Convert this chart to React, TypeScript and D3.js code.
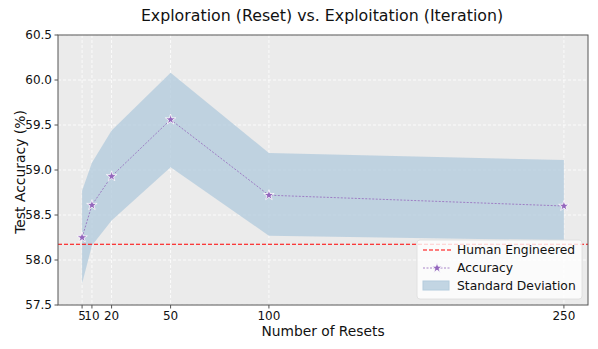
import React from "react";
import * as d3 from "d3";

const resets = [5, 10, 20, 50, 100, 250];
const accuracy = [58.25, 58.61, 58.93, 59.56, 58.72, 58.6];
const stdUpper = [58.77, 59.08, 59.44, 60.08, 59.19, 59.11];
const stdLower = [57.74, 58.16, 58.44, 59.03, 58.27, 58.22];
const humanEngineered = 58.175;
const yTicks = [57.5, 58.0, 58.5, 59.0, 59.5, 60.0, 60.5];
const xTicks = [5, 10, 20, 50, 100, 250];

const W = 598, H = 349;
const M = { left: 58, right: 588, top: 35, bottom: 305 };
const FONT = "DejaVu Sans, sans-serif";

function starPath(cx: number, cy: number, R: number) {
  const r = R * 0.38;
  const pts: string[] = [];
  for (let i = 0; i < 10; i++) {
    const a = -Math.PI / 2 + (i * Math.PI) / 5;
    const rr = i % 2 === 0 ? R : r;
    pts.push(`${cx + rr * Math.cos(a)},${cy + rr * Math.sin(a)}`);
  }
  return "M" + pts.join("L") + "Z";
}

export default function App() {
  const x = d3.scaleLinear().domain([-7.25, 262.25]).range([M.left, M.right]);
  const y = d3.scaleLinear().domain([57.5, 60.5]).range([M.bottom, M.top]);
  const data = resets.map((r, i) => ({ r, a: accuracy[i], u: stdUpper[i], l: stdLower[i] }));
  const area = d3.area<any>().x((d) => x(d.r)).y0((d) => y(d.l)).y1((d) => y(d.u))(data) || "";
  const line = d3.line<any>().x((d) => x(d.r)).y((d) => y(d.a))(data) || "";
  const purple = "#9467bd";
  const lx = 417, ly = 240;
  return (
    <svg width={W} height={H} style={{ display: "block", position: "absolute", left: 0, top: 0 }} fontFamily={FONT}>
      <rect x={0} y={0} width={W} height={H} fill="white" />
      <text x={322} y={21} textAnchor="middle" fontSize={15.8} fill="#111">
        Exploration (Reset) vs. Exploitation (Iteration)
      </text>
      <rect x={M.left} y={M.top} width={M.right - M.left} height={M.bottom - M.top} fill="#EBEBEB" />
      {yTicks.map((t) => (
        <line key={"gy" + t} x1={M.left} x2={M.right} y1={y(t)} y2={y(t)} stroke="white" strokeWidth={0.8} strokeDasharray="3,2" />
      ))}
      {xTicks.map((t) => (
        <line key={"gx" + t} x1={x(t)} x2={x(t)} y1={M.top} y2={M.bottom} stroke="white" strokeWidth={0.8} strokeDasharray="3,2" />
      ))}
      <path d={area} fill="#B4CCDD" fillOpacity={0.8} />
      <line x1={M.left} x2={M.right} y1={y(humanEngineered)} y2={y(humanEngineered)} stroke="#FF0000" strokeWidth={1.1} strokeDasharray="4,2" />
      <path d={line} fill="none" stroke={purple} strokeWidth={0.8} strokeDasharray="2,1.5" />
      {data.map((d) => (
        <path key={"m" + d.r} d={starPath(x(d.r), y(d.a), 5.5)} fill={purple} stroke="white" strokeWidth={0.8} />
      ))}
      <rect x={M.left} y={M.top} width={M.right - M.left} height={M.bottom - M.top} fill="none" stroke="#555" strokeWidth={1} />
      {yTicks.map((t) => (
        <g key={"ty" + t}>
          <line x1={M.left - 3.5} x2={M.left} y1={y(t)} y2={y(t)} stroke="#555" />
          <text x={M.left - 6} y={y(t)} dy="0.35em" textAnchor="end" fontSize={12} fill="#111">
            {t.toFixed(1)}
          </text>
        </g>
      ))}
      {xTicks.map((t) => (
        <g key={"tx" + t}>
          <line x1={x(t)} x2={x(t)} y1={M.bottom} y2={M.bottom + 3.5} stroke="#555" />
          <text x={x(t)} y={M.bottom + 15} textAnchor="middle" fontSize={12} fill="#111">
            {t}
          </text>
        </g>
      ))}
      <text x={323} y={336} textAnchor="middle" fontSize={13.8} fill="#111">
        Number of Resets
      </text>
      <text transform={`translate(25,172) rotate(-90)`} textAnchor="middle" fontSize={13.9} fill="#111">
        Test Accuracy (%)
      </text>
      <g>
        <rect x={lx} y={ly} width={165} height={59} rx={3} fill="white" fillOpacity={0.8} stroke="#ddd" strokeWidth={0.8} />
        <line x1={lx + 6} x2={lx + 34} y1={ly + 10} y2={ly + 10} stroke="#FF0000" strokeWidth={1.1} strokeDasharray="4,2" />
        <text x={lx + 40} y={ly + 10} dy="0.35em" fontSize={12.3} fill="#111">Human Engineered</text>
        <line x1={lx + 6} x2={lx + 34} y1={ly + 28} y2={ly + 28} stroke={purple} strokeWidth={0.8} strokeDasharray="2,1.5" />
        <path d={starPath(lx + 20, ly + 28, 5.5)} fill={purple} stroke="white" strokeWidth={0.8} />
        <text x={lx + 40} y={ly + 28} dy="0.35em" fontSize={12.3} fill="#111">Accuracy</text>
        <rect x={lx + 6} y={ly + 41} width={26} height={9} fill="#B4CCDD" fillOpacity={0.8} stroke="#B4CCDD" />
        <text x={lx + 40} y={ly + 46} dy="0.35em" fontSize={12.3} fill="#111">Standard Deviation</text>
      </g>
    </svg>
  );
}
